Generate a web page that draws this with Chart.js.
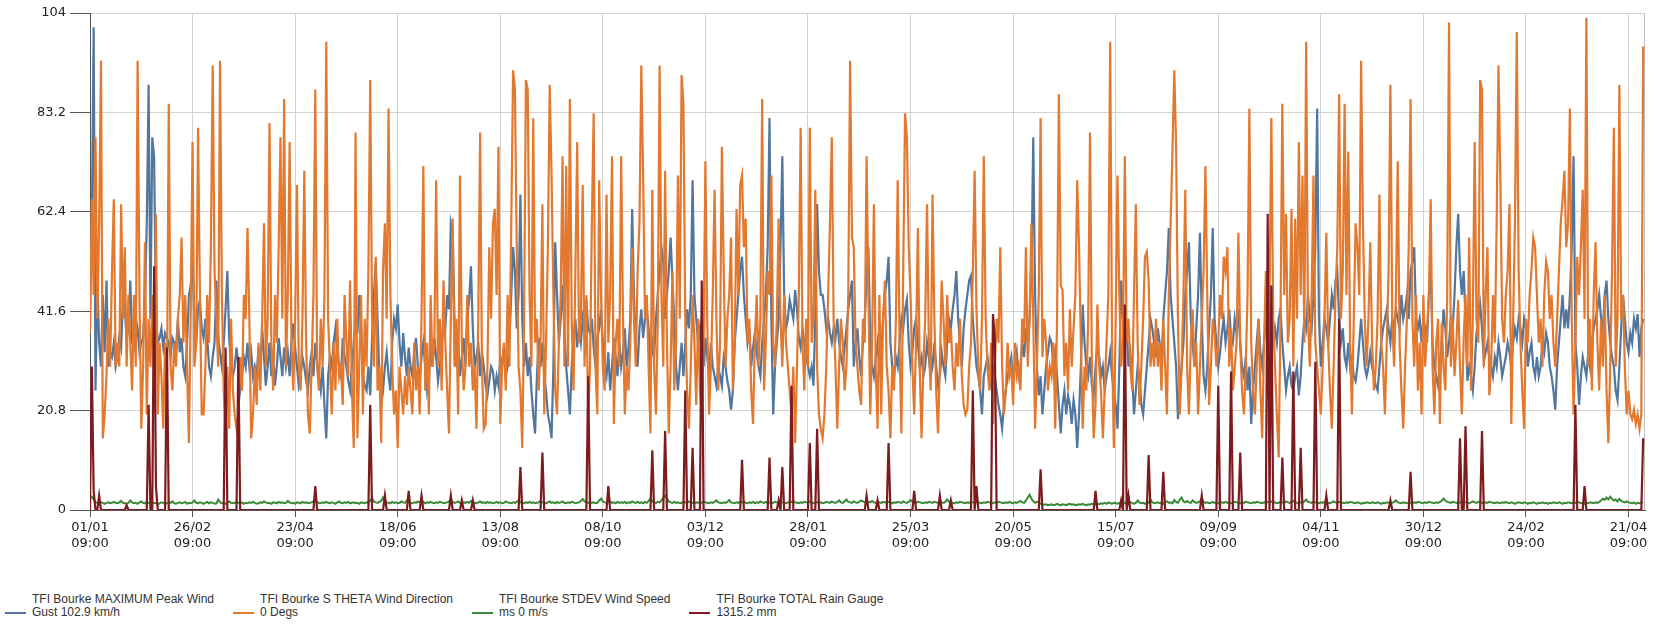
<!DOCTYPE html>
<html>
<head>
<meta charset="utf-8">
<title>TFI Bourke</title>
<script src="https://cdn.jsdelivr.net/npm/chart.js@4.4.1/dist/chart.umd.min.js"></script>
<style>
  html, body { margin: 0; padding: 0; background: #fff; }
  #wrap { position: relative; width: 1658px; height: 624px; }
  #chart { position: absolute; left: 0; top: 0; }
  #legend {
    position: absolute; left: 5px; top: 593px;
    display: flex; gap: 19px;
    font: 12px 'Liberation Sans', Arial, sans-serif; color: #333; line-height: 13px;
  }
  .item { display: flex; align-items: flex-end; }
  .swatch { width: 21px; height: 2px; margin: 0 6px 5px 0; }
</style>
</head>
<body>
<div id="wrap">
  <canvas id="chart" width="1658" height="560"></canvas>
  <div id="legend"></div>
</div>
<script>
// daily readings, day 0 = 01/01 09:00
const xTickDays = [0, 56, 112, 168, 224, 280, 336, 392, 448, 504, 560, 616, 672, 728, 784, 840];
const xTickLabels = ['01/01', '26/02', '23/04', '18/06', '13/08', '08/10', '03/12', '28/01',
                     '25/03', '20/05', '15/07', '09/09', '04/11', '30/12', '24/02', '21/04'];
const xTickTime = '09:00';
const yTickValues = [0, 20.8, 41.6, 62.4, 83.2, 104];
const yTickLabels = ['0', '20.8', '41.6', '62.4', '83.2', '104'];

const legendLine1 = ['TFI Bourke MAXIMUM Peak Wind', 'TFI Bourke S THETA Wind Direction',
                     'TFI Bourke STDEV Wind Speed', 'TFI Bourke TOTAL Rain Gauge'];
const legendLine2 = ['Gust 102.9 km/h', '0 Degs', 'ms 0 m/s', '1315.2 mm'];
const colors = ['#52769e', '#e2792f', '#3a8a3a', '#7d1b1e'];

// peak wind gust
const peakGust = [
  42,60,101,25,48,35,30,45,33,48,
  30,33,32,35,30,32,36,34,45,42,
  36,38,48,35,34,40,38,33,35,36,
  44,60,89,40,78,74,40,35,36,38,
  34,37,36,35,32,36,35,34,40,33,
  36,30,28,35,45,47,52,40,35,42,
  44,38,36,40,36,30,28,32,35,48,
  36,33,30,35,42,50,36,30,28,30,
  34,30,25,28,32,30,35,30,33,28,
  30,28,34,30,38,32,26,30,35,28,
  33,26,30,36,32,28,34,30,33,28,
  35,39,34,30,26,28,32,30,27,25,
  30,33,28,35,31,28,25,30,22,15,
  28,32,30,35,38,33,30,28,36,32,
  30,27,25,30,35,40,37,45,38,28,
  26,25,30,24,36,45,52,40,28,22,
  25,30,33,28,25,35,40,38,43,35,
  30,37,32,28,34,30,28,33,36,30,
  27,32,35,30,25,28,33,30,36,32,
  27,30,34,40,38,45,42,60,58,40,
  30,35,28,32,36,30,40,44,51,38,
  30,32,35,28,33,30,26,24,27,30,
  29,25,28,26,32,30,34,28,30,36,
  45,55,50,38,45,66,40,30,35,28,
  32,25,20,16,28,36,30,35,28,25,
  20,18,15,30,56,45,35,40,47,38,
  30,25,20,30,36,40,34,38,35,40,
  37,44,38,37,40,34,30,36,38,42,
  35,30,28,33,25,30,36,32,28,35,
  30,33,38,30,34,40,63,45,35,30,
  38,42,36,40,42,38,30,35,32,40,
  45,50,55,52,40,45,50,57,48,40,
  30,25,30,35,28,35,42,38,45,69,
  45,40,35,38,33,30,36,32,28,35,
  30,28,26,30,28,26,32,30,27,25,
  21,25,35,40,45,50,53,45,40,35,
  38,30,34,37,33,30,28,35,40,45,
  55,82,40,20,30,35,40,55,74,45,
  38,40,44,42,40,46,42,36,34,38,
  35,32,30,28,30,26,40,64,50,45,
  45,42,38,40,37,35,38,36,40,35,
  32,30,34,38,42,45,48,30,35,38,
  32,28,35,40,48,55,35,30,28,32,
  35,30,33,40,45,48,53,35,30,28,
  32,30,35,40,38,42,44,35,30,33,
  38,40,35,30,32,28,30,35,32,28,
  30,35,30,26,28,33,30,28,35,40,
  38,42,45,50,40,35,30,38,42,45,
  48,49,40,35,30,28,25,20,28,30,
  32,28,26,30,28,25,22,20,17,22,
  25,28,30,32,27,30,33,28,30,35,
  32,38,35,40,50,78,45,30,24,28,
  20,25,30,33,36,35,30,33,28,22,
  16,22,25,20,24,22,18,23,20,13,
  20,30,43,35,30,28,32,26,24,30,
  35,32,28,30,25,28,30,33,28,25,
  22,17,30,48,40,35,38,30,33,28,
  20,25,30,28,22,20,25,30,35,40,
  38,35,32,38,35,30,40,45,50,59,
  45,40,35,30,19,25,30,35,45,50,
  56,40,35,30,38,45,58,40,28,25,
  30,38,45,59,40,35,30,33,37,40,
  35,38,42,36,35,40,37,42,35,30,
  28,32,25,30,18,25,30,35,40,33,
  30,35,40,38,42,40,35,38,35,40,
  42,35,30,25,28,30,26,25,28,30,
  24,28,35,40,38,45,40,38,45,55,
  84,40,30,35,40,38,35,40,45,42,
  48,50,40,35,38,32,30,35,30,32,
  28,27,30,35,40,35,30,28,30,33,
  30,28,26,25,30,35,38,40,42,38,
  35,40,38,42,40,38,45,40,42,45,
  40,50,52,55,40,38,40,35,40,38,
  35,45,50,35,30,28,26,30,35,42,
  38,32,35,40,38,45,55,62,50,45,
  50,40,27,30,28,25,30,37,40,43,
  38,31,33,35,32,30,28,32,30,35,
  32,28,30,32,35,33,30,35,38,36,
  40,38,35,40,38,30,33,35,30,28,
  32,28,30,35,33,37,35,30,28,25,
  21,30,35,40,45,38,42,38,45,55,
  74,35,30,22,28,32,30,28,33,30,
  35,38,40,42,45,40,38,45,48,40,
  35,32,30,25,23,30,38,45,40,35,
  33,37,35,40,38,41,32,38,40
];

// wind direction sigma theta
const windDir = [
  37,65,45,78,40,60,94,15,20,28,
  40,30,50,65,30,35,30,64,40,55,
  30,45,35,25,45,30,94,45,17,30,
  56,20,40,30,45,25,62,20,35,28,
  17,35,22,85,30,25,35,30,40,45,
  57,35,45,30,14,42,77,30,35,80,
  45,20,20,30,45,35,55,93,50,40,
  30,94,45,25,17,30,17,40,25,20,
  17,20,32,25,45,40,59,40,15,20,
  30,22,35,25,40,60,30,40,81,35,
  25,45,35,55,78,40,86,30,45,77,
  35,25,40,68,30,25,40,71,35,20,
  16,30,45,88,30,25,40,30,45,98,
  40,30,20,35,25,40,28,30,22,45,
  35,28,48,25,13,79,15,30,45,20,
  40,30,50,90,40,30,53,25,30,14,
  50,60,40,84,45,30,20,25,13,30,
  25,20,28,22,30,25,20,35,25,30,
  20,40,72,25,35,20,45,30,35,69,
  30,40,25,48,35,25,16,40,61,30,
  40,20,70,35,25,30,45,30,35,25,
  30,17,40,79,30,17,18,30,55,40,
  60,63,45,76,18,30,35,25,45,30,
  60,92,88,55,30,25,13,40,90,88,
  45,30,82,35,40,25,35,64,20,35,
  55,89,70,45,25,20,35,45,74,30,
  72,30,86,40,25,50,77,35,40,68,
  30,45,20,30,60,83,30,20,69,45,
  30,25,66,35,45,74,18,35,40,30,
  74,40,20,30,25,35,55,40,30,50,
  60,93,70,40,45,30,16,67,30,20,
  40,93,45,30,71,35,16,30,50,25,
  35,70,40,91,85,40,25,17,30,45,
  35,22,40,25,20,35,73,40,20,30,
  45,67,40,25,35,76,50,30,40,45,
  57,25,35,63,45,68,70,55,61,35,
  40,25,18,35,45,30,40,86,25,35,
  50,45,70,35,30,40,61,40,30,45,
  35,30,25,20,30,14,30,45,80,35,
  25,40,30,80,35,40,67,30,20,17,
  15,20,30,45,60,78,40,30,17,30,
  40,35,25,30,45,94,57,55,35,30,
  25,22,40,35,74,45,20,35,64,30,
  17,45,20,40,48,30,25,15,30,25,
  40,69,35,16,50,83,78,55,45,30,
  20,35,59,30,15,30,40,64,35,25,
  66,40,25,16,30,48,40,30,45,35,
  38,30,25,35,30,40,28,22,20,21,
  30,35,50,71,42,30,25,40,74,40,
  30,25,35,18,30,40,35,55,30,20,
  25,35,28,30,22,35,28,30,25,40,
  35,55,30,40,60,40,17,30,45,82,
  32,40,35,25,30,28,35,17,40,87,
  47,46,28,35,25,42,30,38,45,69,
  55,35,17,30,25,40,79,30,15,22,
  43,30,25,15,25,35,45,98,35,13,
  40,70,45,30,35,74,35,40,30,25,
  45,64,35,22,30,40,53,54,48,30,
  35,30,40,30,35,25,40,30,20,45,
  60,75,92,76,40,20,30,45,67,30,
  20,35,42,30,35,20,30,40,50,72,
  45,22,30,40,37,30,35,45,40,53,
  50,55,30,38,25,30,35,58,35,25,
  20,30,45,84,35,25,20,30,40,25,
  15,35,50,30,45,82,40,30,20,11,
  40,85,45,62,35,40,63,30,61,40,
  77,45,70,35,98,40,30,45,70,35,
  30,25,20,30,40,58,35,25,17,30,
  45,55,87,40,50,85,45,75,35,20,
  40,60,55,45,94,60,40,30,40,56,
  35,25,30,40,66,35,30,20,35,50,
  89,40,30,45,73,35,25,17,30,40,
  55,86,40,30,45,25,35,20,45,30,
  38,45,65,30,20,35,40,18,39,30,
  25,45,102,30,40,28,35,44,30,20,
  36,45,30,57,25,40,77,40,35,90,
  88,30,45,55,24,30,45,35,60,93,
  70,40,35,45,50,64,18,40,60,100,
  50,35,25,17,40,35,45,50,57,55,
  45,35,40,30,45,52,50,40,45,35,
  30,40,50,60,65,71,55,60,84,40,
  20,35,53,45,55,67,40,103,30,40,
  25,45,56,35,25,40,30,45,25,14,
  30,50,80,30,40,89,40,45,30,20,
  25,20,19,21,18,20,17,20,97
];

// wind speed standard deviation
const speedStdev = [
  2.5,2.8,2.2,1.6,1.5,1.4,1.6,1.5,1.3,1.5,
  1.6,1.4,1.5,1.7,1.5,1.4,1.6,1.9,1.5,1.4,
  1.3,1.5,2.0,1.6,1.4,1.5,1.3,1.6,1.8,1.5,
  1.4,1.7,1.5,1.3,1.6,1.4,1.5,1.2,1.4,1.6,
  1.5,1.3,1.4,1.6,1.5,1.8,1.4,1.3,1.5,1.6,
  1.4,1.5,1.7,1.3,1.5,1.4,1.6,2.0,1.5,1.4,
  1.6,1.5,1.3,1.5,1.7,1.4,1.6,1.5,1.3,1.4,
  2.2,1.6,1.4,1.5,1.3,1.6,1.8,1.5,1.4,1.5,
  1.7,1.5,1.4,1.6,1.3,1.5,1.4,1.6,1.5,1.7,
  1.5,1.3,1.4,1.6,1.5,1.8,1.6,1.4,1.5,1.3,
  1.6,1.5,1.4,1.7,1.5,1.6,1.4,1.5,1.9,1.6,
  1.4,1.5,1.3,1.6,1.5,1.4,1.7,1.5,1.6,1.4,
  1.5,1.6,1.8,2.1,1.6,1.5,1.4,1.6,1.5,1.7,
  1.5,1.4,1.6,1.5,1.3,1.6,1.8,1.5,1.4,1.6,
  1.5,1.7,1.4,1.5,1.6,1.4,1.5,1.3,1.6,1.5,
  1.4,1.6,1.5,2.0,2.4,1.8,1.6,1.5,1.7,1.9,
  2.6,2.0,1.6,1.5,1.4,1.7,1.5,1.6,1.4,1.5,
  1.8,1.6,1.5,2.0,1.7,1.5,1.4,1.6,1.5,1.8,
  1.6,1.5,1.7,1.4,1.6,1.5,1.7,1.5,1.4,1.6,
  1.5,1.7,1.6,1.4,1.5,1.6,1.8,2.2,1.7,1.5,
  1.6,1.8,1.5,1.4,1.6,1.5,1.7,1.5,1.9,1.6,
  1.5,1.4,1.6,1.8,1.5,1.6,1.4,1.7,1.5,1.6,
  1.4,1.5,1.7,1.5,1.6,1.4,1.5,1.8,1.6,1.5,
  1.4,1.6,1.5,1.7,2.0,1.6,1.5,1.4,1.6,1.5,
  1.7,1.5,1.6,1.4,1.5,1.6,1.9,1.6,1.5,1.4,
  1.6,1.8,1.5,1.6,1.4,1.7,1.5,1.6,1.8,1.5,
  1.4,1.6,1.5,1.7,1.6,1.4,1.5,1.6,1.9,2.3,
  1.8,1.6,1.5,1.7,1.5,1.6,1.4,1.5,2.0,2.4,
  1.8,1.6,1.5,1.7,1.8,1.5,1.6,1.4,1.7,1.5,
  1.6,1.5,1.7,1.4,1.6,1.5,1.8,1.6,1.5,1.7,
  1.5,1.6,1.4,1.7,1.5,1.9,2.4,1.8,1.6,1.5,
  1.7,1.6,2.0,2.6,3.0,2.4,1.8,1.6,1.5,1.7,
  1.5,1.6,1.4,1.5,1.7,1.6,1.5,1.8,1.6,1.5,
  1.4,1.6,1.5,1.7,1.5,1.8,1.6,1.5,1.4,1.6,
  1.5,1.7,2.0,1.6,1.5,1.4,1.6,1.5,1.7,2.1,
  1.6,1.5,1.4,1.6,1.5,1.7,1.6,1.8,1.5,1.4,
  1.6,1.5,1.7,1.4,1.6,1.5,1.8,1.6,1.5,1.7,
  1.5,1.6,1.4,1.5,1.7,1.6,1.5,1.8,1.6,1.5,
  1.4,1.6,1.5,1.7,1.9,1.6,1.5,1.4,1.6,1.5,
  1.7,1.6,1.5,1.8,1.6,1.4,1.5,1.7,1.5,1.6,
  1.4,1.5,1.7,1.6,1.5,1.8,1.6,1.5,1.7,2.0,
  1.6,1.5,1.8,2.2,1.7,1.6,1.5,1.8,1.6,1.5,
  1.7,2.0,1.8,1.6,1.5,1.7,1.6,1.9,1.6,1.5,
  1.8,1.6,1.5,1.7,1.6,1.5,1.7,1.6,1.4,1.6,
  1.5,1.7,1.6,1.5,1.8,1.6,1.5,1.7,2.1,1.7,
  1.6,1.5,1.7,1.6,1.5,1.4,1.6,1.5,1.7,1.6,
  1.5,1.7,1.6,1.5,1.8,1.6,1.5,1.7,2.2,1.7,
  1.6,1.5,1.4,1.6,1.5,1.7,1.6,1.5,1.4,1.6,
  1.5,1.7,1.6,1.5,1.8,1.6,1.5,1.4,1.6,1.5,
  1.7,1.6,1.5,1.4,1.6,1.5,1.7,1.6,1.5,1.4,
  1.6,1.5,1.7,1.5,1.4,1.6,1.5,1.7,1.9,1.6,
  1.5,2.0,2.6,3.2,2.4,1.8,1.5,1.7,1.6,1.3,
  1.2,1.1,1.2,1.0,1.1,1.2,1.0,1.1,1.3,1.1,
  1.0,1.2,1.1,1.0,1.2,1.3,1.1,1.2,1.0,1.1,
  1.2,1.1,1.3,1.1,1.0,1.2,1.1,1.3,1.2,1.1,
  1.3,1.2,1.4,1.3,1.5,1.3,1.6,1.4,1.3,1.5,
  1.4,1.3,1.5,1.4,1.6,1.5,1.3,1.4,1.6,1.5,
  1.3,1.5,2.0,1.6,1.4,1.5,1.3,1.6,1.5,2.2,
  1.6,1.4,1.5,1.6,1.4,1.5,1.3,1.7,1.8,1.5,
  1.6,1.4,2.1,1.7,1.5,2.2,2.6,1.8,1.6,1.9,
  1.6,1.5,2.0,1.7,1.5,1.6,1.8,2.4,1.7,1.5,
  1.6,1.4,1.5,1.7,1.5,1.6,1.4,1.5,1.6,1.5,
  1.7,1.5,1.6,1.4,1.5,1.7,1.6,1.5,1.4,1.6,
  1.5,1.7,1.6,1.5,1.4,1.6,1.5,1.7,1.6,1.5,
  1.4,1.6,1.5,1.7,1.6,1.8,1.5,1.6,1.4,1.5,
  1.7,1.6,1.5,1.8,1.6,1.5,1.7,1.9,1.6,1.5,
  1.4,1.6,1.5,1.8,2.2,1.7,1.6,1.5,1.7,1.6,
  1.5,1.4,1.6,1.5,1.7,1.6,1.5,1.4,1.6,1.8,
  1.6,1.5,1.7,1.6,1.5,1.4,1.6,1.5,1.7,1.6,
  1.5,1.4,1.6,1.5,1.3,1.5,1.4,1.6,1.5,1.4,
  1.6,1.5,1.4,1.6,1.5,1.3,1.5,1.4,1.6,1.5,
  1.4,1.5,1.7,2.0,1.6,1.5,1.4,1.6,1.5,1.4,
  1.6,1.5,1.4,1.6,1.5,1.7,1.6,1.5,1.4,1.6,
  1.5,1.7,1.6,1.5,1.4,1.6,1.5,1.7,1.9,2.4,
  2.0,1.7,1.6,1.5,1.7,1.6,1.5,1.4,1.6,1.5,
  1.7,1.6,1.5,1.4,1.6,1.8,1.6,1.5,1.7,1.6,
  1.5,1.4,1.6,1.5,1.7,1.6,1.5,1.4,1.6,1.5,
  1.4,1.6,1.5,1.7,1.5,1.4,1.6,1.5,1.3,1.5,
  1.6,1.5,1.4,1.6,1.5,1.3,1.5,1.4,1.6,1.5,
  1.3,1.5,1.4,1.6,1.4,1.5,1.3,1.5,1.4,1.6,
  1.5,1.4,1.6,1.5,1.3,1.5,1.4,1.6,1.5,1.4,
  1.6,1.5,1.7,1.6,1.4,1.5,1.3,1.5,1.4,1.6,
  1.5,1.4,1.6,1.5,1.7,2.0,2.4,2.1,2.6,2.2,
  2.8,2.3,2.0,2.2,1.8,2.3,1.9,1.7,1.6,1.8,
  1.6,1.5,1.4,1.6,1.3,1.5,1.4,1.6,1.5
];

// rain gauge totals: only days with rain, every other day is 0 mm
const rainDays = [1,2,5,20,32,35,36,42,74,81,
  123,153,161,174,181,197,203,209,235,247,
  272,283,307,314,325,329,334,356,371,376,
  378,383,393,397,424,430,436,450,464,470,
  482,484,493,494,519,549,563,565,567,578,
  586,607,616,623,628,643,645,651,657,661,
  669,675,682,710,721,748,751,760,811,816,
  848];
const rainMm = [30,4,3,1,22,51,5,34,34,32,
  5,22,3,4,3,3,2,2,9,12,
  28,5,12.5,16.5,25,13,48,10.5,11,2,
  9,26,14,17,3,2,14,4,3,2,
  25,5,41,36,8.5,4,2,43,3,11.5,
  8,3,26,29,12,62,47,11,29,13,
  31,3,40,2,8,15,17.5,16.5,22,5,
  15];

const rain = windDir.map(() => 0);
rainDays.forEach((d, k) => { rain[d] = rainMm[k]; });

const series = [peakGust, windDir, speedStdev, rain];
const drawOrder = [2, 1, 3, 0];
const lineWidths = [2.2, 2.2, 2, 2.2];

const frame = {
  id: 'frame',
  beforeDatasetsDraw(c) {
    const a = c.chartArea, ctx = c.ctx;
    ctx.save();
    ctx.strokeStyle = '#bdbdbd';
    ctx.lineWidth = 1;
    ctx.beginPath();
    ctx.moveTo(a.right - 0.5, a.top);
    ctx.lineTo(a.right - 0.5, a.bottom);
    ctx.stroke();
    ctx.restore();
  }
};

const tickFont = { family: "'DejaVu Sans', Verdana, sans-serif", size: 13 };

new Chart(document.getElementById('chart'), {
  type: 'line',
  data: {
    datasets: series.map((s, k) => ({
      label: legendLine1[k] + ' ' + legendLine2[k],
      data: s.map((v, i) => ({ x: i, y: v })),
      borderColor: colors[k],
      backgroundColor: colors[k],
      borderWidth: lineWidths[k],
      pointRadius: 0,
      tension: 0,
      fill: false,
      order: drawOrder[k]
    }))
  },
  options: {
    responsive: false,
    animation: false,
    normalized: true,
    layout: { padding: { top: 13, right: 13, left: 0, bottom: 0 } },
    plugins: { legend: { display: false }, tooltip: { enabled: false } },
    scales: {
      x: {
        type: 'linear',
        min: 0,
        max: 849,
        afterBuildTicks: axis => { axis.ticks = xTickDays.map(v => ({ value: v })); },
        afterFit: scale => { scale.height = 50; },
        ticks: {
          autoSkip: false,
          maxRotation: 0,
          padding: 3,
          color: '#222',
          font: tickFont,
          callback: (v, i) => [xTickLabels[i], xTickTime]
        },
        grid: { color: '#d2d2d2', tickColor: '#555', tickLength: 7 },
        border: { color: '#555' }
      },
      y: {
        min: 0,
        max: 104,
        afterBuildTicks: axis => { axis.ticks = yTickValues.map(v => ({ value: v })); },
        afterFit: scale => { scale.width = 90; },
        ticks: {
          padding: 4,
          color: '#222',
          font: tickFont,
          callback: (v, i) => yTickLabels[i]
        },
        grid: { color: '#d2d2d2', tickColor: '#555', tickLength: 20 },
        border: { color: '#555' }
      }
    }
  },
  plugins: [frame]
});

// two-line legend under the plot
const legend = document.getElementById('legend');
legendLine1.forEach((t, k) => {
  const item = document.createElement('div');
  item.className = 'item';
  item.innerHTML = `
    <span class="swatch" style="background:${colors[k]}"></span>
    <span>${t}<br>${legendLine2[k]}</span>
  `;
  legend.appendChild(item);
});
</script>
</body>
</html>
